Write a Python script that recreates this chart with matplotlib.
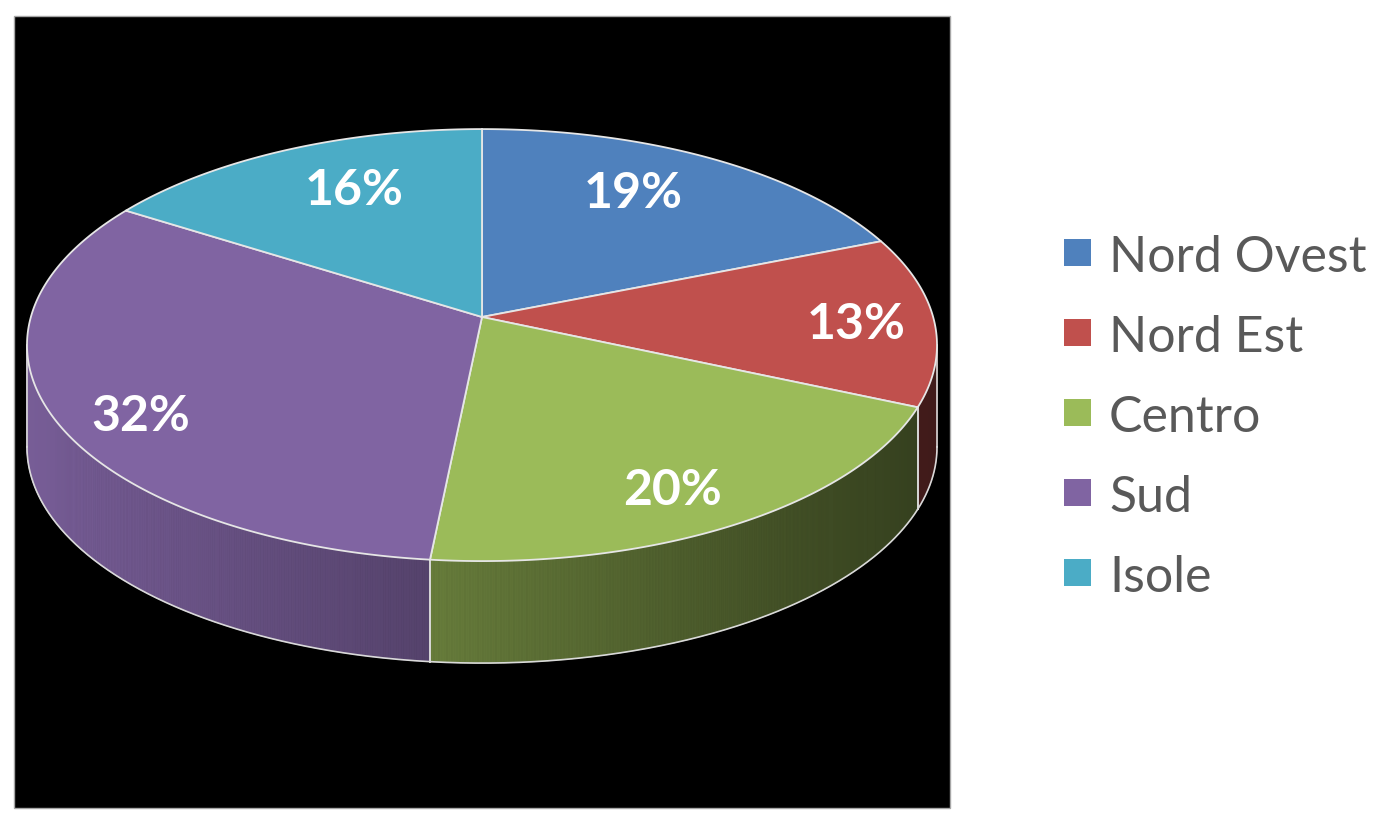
import numpy as np
import matplotlib
matplotlib.use("Agg")
import matplotlib.pyplot as plt
from matplotlib.patches import Polygon, Rectangle
from matplotlib.collections import PolyCollection
from matplotlib.colors import to_rgb

# ---- data ----
categories = ["Nord Ovest", "Nord Est", "Centro", "Sud", "Isole"]
values = [18.9, 12.7, 20.0, 32.4, 16.0]
colors = ["#4F81BD", "#C0504D", "#9BBB59", "#8064A2", "#4BACC6"]

# ---- layout (pixels) ----
W, H = 1380, 829
cx, cy = 482.0, 318.0      # projected pie centre
rx, ry = 455.0, 216.0      # projected ellipse semi-axes
k = 0.13                   # perspective strength
depth = 102.0              # side height
A = rx * np.sqrt(1 - k**2)
B = ry * (1 - k**2)
ell_cy = cy + k * ry       # ellipse centre y (screen)
# label placement (radial fraction and vertical nudge, per slice)
label_r = [0.60, 0.83, 0.84, 0.84, 0.59]
label_dy = [-19, 4, 18, 21, -18]

def proj(theta, r=1.0):
    """theta: clockwise from 12 o'clock (radians)"""
    u = r * np.sin(theta)
    v = r * np.cos(theta)
    w = 1 + k * v
    return cx + A * u / w, cy - B * v / w

fig = plt.figure(figsize=(W / 100, H / 100), dpi=100)
ax = fig.add_axes([0, 0, 1, 1])
ax.set_xlim(0, W)
ax.set_ylim(H, 0)
ax.axis("off")

ax.add_patch(Rectangle((13.5, 16.5), 936.5, 792.5, facecolor="black",
                       edgecolor="#a6a6a6", linewidth=1.0, zorder=0))

total = sum(values)
fracs = np.array(values) / total
bounds = np.concatenate([[0], np.cumsum(fracs)]) * 2 * np.pi

def shade(x):
    rel = (x - cx) / rx
    return np.clip(0.63 - 0.3 * rel, 0.3, 1.0)

edge_col = "#d9d9d9"

# ---- sides ----
for i, col in enumerate(colors):
    t = np.linspace(bounds[i], bounds[i + 1], 400)
    xs, ys = proj(t)
    base = np.array(to_rgb(col))
    polys, fcs = [], []
    for j in range(len(t) - 1):
        if ys[j] >= ell_cy - 0.5 and ys[j + 1] >= ell_cy - 0.5:
            p = [(xs[j], ys[j]), (xs[j + 1], ys[j + 1]),
                 (xs[j + 1], ys[j + 1] + depth), (xs[j], ys[j] + depth)]
            polys.append(p)
            c = base * shade(0.5 * (xs[j] + xs[j + 1]))
            fcs.append(tuple(c))
    if polys:
        pc = PolyCollection(polys, facecolors=fcs, edgecolors=fcs,
                            linewidths=0.6, zorder=1)
        ax.add_collection(pc)
    m = ys >= ell_cy - 0.5
    if m.any():
        ax.plot(xs[m], ys[m] + depth, color=edge_col, lw=1.2, zorder=2)
        for tb in (bounds[i], bounds[i + 1]):
            bx, by = proj(tb)
            if by >= ell_cy:
                ax.plot([bx, bx], [by, by + depth], color=edge_col,
                        lw=1.2, zorder=2)

# silhouette edges left / right
tt = np.linspace(0, 2 * np.pi, 4000)
ex, ey = proj(tt)
for idx in (np.argmin(ex), np.argmax(ex)):
    ax.plot([ex[idx], ex[idx]], [ey[idx], ey[idx] + depth], color=edge_col,
            lw=1.2, zorder=2)

# ---- top faces ----
for i, col in enumerate(colors):
    t = np.linspace(bounds[i], bounds[i + 1], 300)
    xs, ys = proj(t)
    pts = np.column_stack([np.r_[cx, xs], np.r_[cy, ys]])
    ax.add_patch(Polygon(pts, closed=True, facecolor=col,
                         edgecolor="#e6e6e6", linewidth=1.3, zorder=3))

# ---- labels ----
for i in range(len(values)):
    mid = 0.5 * (bounds[i] + bounds[i + 1])
    lx = cx + A * label_r[i] * np.sin(mid)
    ly = cy - B * label_r[i] * np.cos(mid) + label_dy[i]
    ax.text(lx, ly, f"{round(values[i])}%", color="white",
            fontsize=36, fontweight="bold", family="Lato",
            ha="center", va="center", zorder=5)

# ---- legend ----
leg_x, leg_y0, leg_dy, sq = 1064, 253, 80, 27
for i, (name, col) in enumerate(zip(categories, colors)):
    yy = leg_y0 + i * leg_dy
    ax.add_patch(Rectangle((leg_x, yy - sq / 2), sq, sq, facecolor=col,
                           edgecolor="none", zorder=3))
    ax.text(leg_x + 45, yy, name, color="#595959", fontsize=36,
            family="Lato", ha="left", va="center_baseline", zorder=3)

fig.savefig("out.png", dpi=100, facecolor="white")
